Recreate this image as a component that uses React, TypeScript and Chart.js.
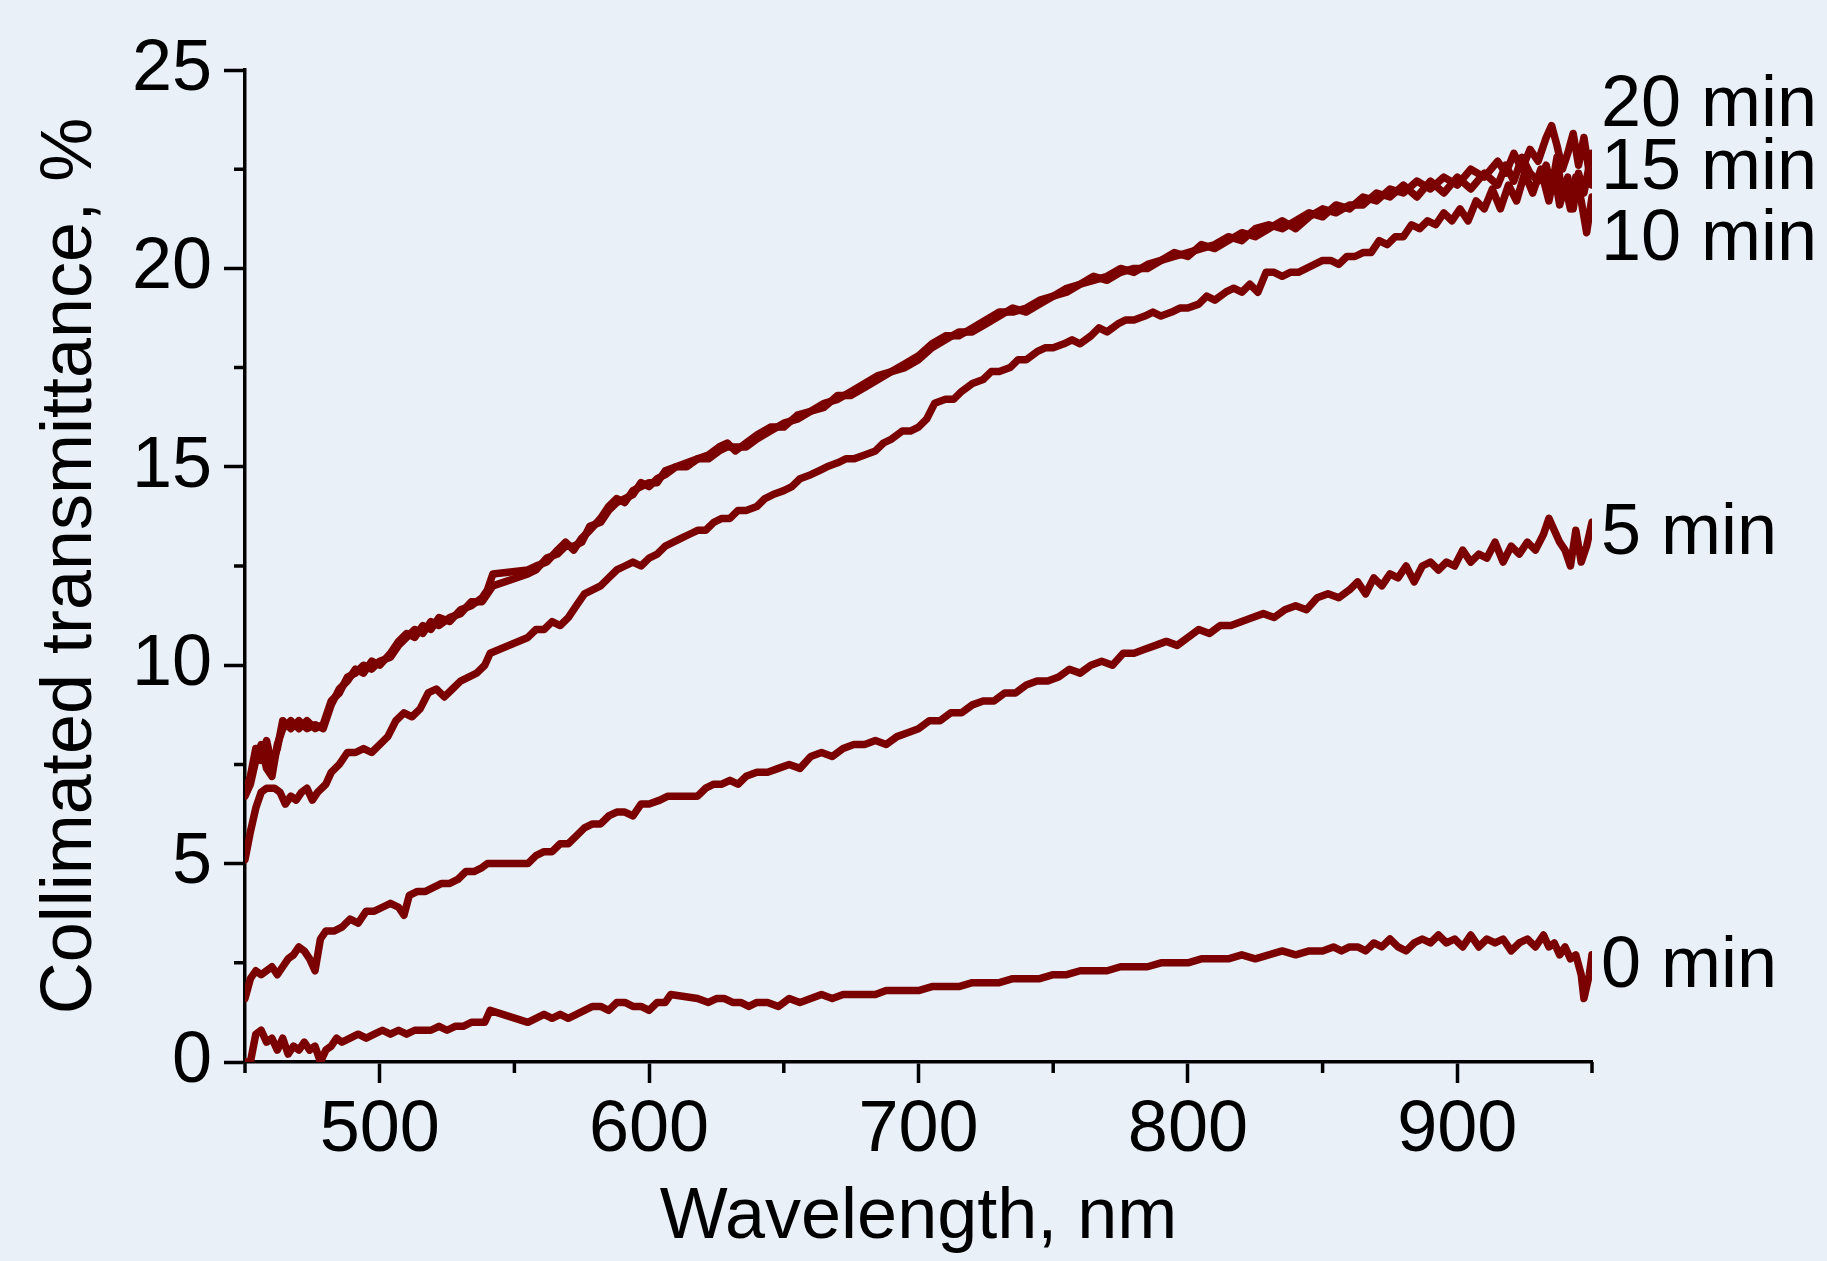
import React, { useEffect, useRef } from "react";
import { Chart, registerables } from "chart.js";

Chart.register(...registerables);

// ---- Data ----
const seriesNames = ["0 min", "5 min", "10 min", "15 min", "20 min"];
const labelYValues = [2.4, 13.3, 20.7, 22.5, 24.1];

const wl0 = [450,452,454,456,458,460,462,464,466,468,470,472,474,476,478,480,482,484,486,489,492,495,498,501,504,507,510,513,516,519,522,525,528,531,534,537,539,541,555,558,561,564,567,570,573,576,579,582,585,588,591,594,597,600,603,606,608,618,622,625,628,631,634,637,640,644,648,652,656,660,664,668,672,676,680,684,688,692,696,700,705,710,715,720,725,730,735,740,745,750,755,760,765,770,775,780,785,790,795,800,805,810,815,820,825,830,835,840,845,850,854,857,860,863,866,869,872,875,878,881,884,887,890,893,896,899,902,905,908,911,914,917,920,923,926,929,932,934,936,938,940,942,944,946,947,949,950];
const t0 = [0.0,0.0,0.7,0.8,0.5,0.6,0.3,0.6,0.2,0.4,0.3,0.5,0.3,0.4,0.0,0.3,0.4,0.6,0.5,0.6,0.7,0.6,0.7,0.8,0.7,0.8,0.7,0.8,0.8,0.8,0.9,0.8,0.9,0.9,1.0,1.0,1.0,1.3,1.0,1.1,1.2,1.1,1.2,1.1,1.2,1.3,1.4,1.4,1.3,1.5,1.5,1.4,1.4,1.3,1.5,1.5,1.7,1.6,1.5,1.6,1.6,1.5,1.5,1.4,1.5,1.5,1.4,1.6,1.5,1.6,1.7,1.6,1.7,1.7,1.7,1.7,1.8,1.8,1.8,1.8,1.9,1.9,1.9,2.0,2.0,2.0,2.1,2.1,2.1,2.2,2.2,2.3,2.3,2.3,2.4,2.4,2.4,2.5,2.5,2.5,2.6,2.6,2.6,2.7,2.6,2.7,2.8,2.7,2.8,2.8,2.9,2.8,2.9,2.9,2.8,3.0,2.9,3.1,2.9,2.8,3.0,3.1,3.0,3.2,3.0,3.1,2.9,3.2,2.9,3.1,3.0,3.1,2.8,3.0,3.1,2.9,3.2,2.9,3.0,2.7,2.9,2.6,2.7,2.2,1.6,2.2,2.7];

const wl5 = [450,452,454,456,458,460,462,464,466,468,470,472,474,476,478,480,483,486,489,492,495,498,501,504,507,509,511,514,517,520,523,526,529,532,535,538,540,555,558,561,564,567,570,573,576,579,582,585,588,591,594,597,600,604,607,618,621,624,627,630,633,636,640,644,648,652,656,660,664,668,672,676,680,684,688,692,696,700,704,708,712,716,720,724,728,732,736,740,744,748,752,756,760,764,768,772,776,780,784,788,792,796,800,804,808,812,816,820,824,828,832,836,840,844,848,852,856,860,863,866,869,872,875,878,881,884,887,890,893,896,899,902,905,908,911,914,917,920,923,926,929,932,934,936,938,940,942,944,946,948,950];
const t5 = [1.6,2.1,2.3,2.2,2.3,2.4,2.2,2.4,2.6,2.7,2.9,2.8,2.6,2.3,3.1,3.3,3.3,3.4,3.6,3.5,3.8,3.8,3.9,4.0,3.9,3.7,4.2,4.3,4.3,4.4,4.5,4.5,4.6,4.8,4.8,4.9,5.0,5.0,5.2,5.3,5.3,5.5,5.5,5.7,5.9,6.0,6.0,6.2,6.3,6.3,6.2,6.5,6.5,6.6,6.7,6.7,6.9,7.0,7.0,7.1,7.0,7.2,7.3,7.3,7.4,7.5,7.4,7.7,7.8,7.7,7.9,8.0,8.0,8.1,8.0,8.2,8.3,8.4,8.6,8.6,8.8,8.8,9.0,9.1,9.1,9.3,9.3,9.5,9.6,9.6,9.7,9.9,9.8,10.0,10.1,10.0,10.3,10.3,10.4,10.5,10.6,10.5,10.7,10.9,10.8,11.0,11.0,11.1,11.2,11.3,11.2,11.4,11.5,11.4,11.7,11.8,11.7,11.9,12.1,11.8,12.2,12.0,12.3,12.2,12.5,12.1,12.5,12.6,12.4,12.6,12.5,12.9,12.6,12.8,12.7,13.1,12.6,13.0,12.8,13.1,12.9,13.3,13.7,13.4,13.1,12.9,12.5,13.4,12.6,13.0,13.6];

const wl10 = [450,452,454,456,458,461,463,465,467,469,471,473,475,477,480,482,485,488,491,494,497,500,503,506,509,512,515,518,521,524,527,530,533,536,539,541,555,558,561,564,567,570,573,576,579,582,585,588,591,594,597,600,603,606,609,612,615,618,621,624,627,630,633,636,640,643,646,650,653,656,660,663,666,670,673,676,680,684,687,690,694,697,700,703,706,710,713,716,720,724,727,730,734,737,740,744,747,750,754,757,760,764,767,770,774,777,780,784,787,790,794,797,800,804,807,810,814,817,820,823,826,829,832,835,838,841,844,847,850,853,856,859,862,865,868,871,874,877,880,883,886,889,892,895,898,901,904,907,910,913,916,919,922,925,928,931,934,936,938,940,942,944,946,948,950];
const t10 = [5.1,5.8,6.4,6.8,6.9,6.9,6.8,6.5,6.7,6.6,6.8,6.9,6.6,6.8,7.0,7.3,7.5,7.8,7.8,7.9,7.8,8.0,8.2,8.6,8.8,8.7,8.9,9.3,9.4,9.2,9.4,9.6,9.7,9.8,10.0,10.3,10.7,10.9,10.9,11.1,11.0,11.2,11.5,11.8,11.9,12.0,12.2,12.4,12.5,12.6,12.5,12.7,12.8,13.0,13.1,13.2,13.3,13.4,13.4,13.6,13.7,13.7,13.9,13.9,14.0,14.2,14.3,14.4,14.5,14.7,14.8,14.9,15.0,15.1,15.2,15.2,15.3,15.4,15.6,15.7,15.9,15.9,16.0,16.2,16.6,16.7,16.7,16.9,17.1,17.2,17.4,17.4,17.5,17.7,17.7,17.9,18.0,18.0,18.1,18.2,18.1,18.3,18.5,18.4,18.6,18.7,18.7,18.8,18.9,18.8,18.9,19.0,19.0,19.1,19.3,19.2,19.4,19.5,19.4,19.6,19.4,19.9,19.9,19.8,19.9,19.9,20.0,20.1,20.2,20.2,20.1,20.3,20.3,20.4,20.4,20.7,20.6,20.8,20.8,21.1,21.0,21.2,21.1,21.4,21.2,21.5,21.2,21.7,21.5,22.0,21.5,22.1,21.7,22.4,21.9,22.5,21.7,22.4,21.6,22.1,21.5,22.3,21.7,20.9,21.8];

const wl15 = [450,452,454,456,458,460,462,464,467,470,473,476,479,482,485,488,491,494,497,500,504,507,510,513,516,519,522,526,530,534,538,540,542,555,558,562,566,569,572,575,578,582,585,588,591,594,597,600,603,606,610,614,618,622,626,629,632,636,640,645,650,655,660,665,670,675,680,685,690,695,700,705,710,715,720,725,730,735,740,745,750,755,760,765,770,775,780,785,790,795,800,805,810,815,820,825,830,835,840,845,850,855,860,865,870,875,880,885,890,895,900,905,910,915,918,921,924,927,930,933,935,937,939,941,943,945,947,949,950];
const t15 = [6.7,7.0,7.6,8.0,7.4,7.2,8.0,8.4,8.6,8.4,8.6,8.4,8.5,9.1,9.3,9.7,9.8,10.0,9.9,10.1,10.2,10.5,10.7,10.9,10.8,11.1,11.0,11.2,11.3,11.6,11.6,11.8,12.0,12.3,12.4,12.7,12.8,13.0,13.0,13.1,13.5,13.6,13.9,14.1,14.2,14.3,14.6,14.5,14.7,14.8,15.0,15.0,15.2,15.2,15.4,15.5,15.5,15.5,15.7,15.9,16.1,16.2,16.4,16.5,16.8,16.8,17.0,17.2,17.4,17.5,17.7,18.0,18.2,18.4,18.4,18.6,18.8,19.0,18.9,19.1,19.3,19.4,19.6,19.8,19.7,19.9,20.0,20.0,20.2,20.4,20.3,20.6,20.5,20.7,20.9,20.8,21.0,21.2,21.0,21.3,21.5,21.4,21.6,21.6,21.9,21.8,22.1,21.8,22.2,21.9,22.3,22.0,22.4,22.1,22.6,22.2,22.8,22.4,22.2,22.6,22.0,22.8,21.8,22.3,21.5,22.4,21.9,22.6,22.1];

const wl20 = [450,452,454,456,458,460,462,464,467,470,473,476,479,482,485,488,491,494,497,500,504,507,510,513,516,519,522,526,530,534,538,540,542,555,558,562,566,569,572,575,578,582,585,588,591,594,597,600,603,606,610,614,618,622,626,629,632,636,640,645,650,655,660,665,670,675,680,685,690,695,700,705,710,715,720,725,730,735,740,745,750,755,760,765,770,775,780,785,790,795,800,805,810,815,820,825,830,835,840,845,850,855,860,865,870,875,880,885,890,895,900,905,910,915,918,921,924,927,930,933,935,937,939,941,943,945,947,949,950];
const t20 = [6.8,7.2,7.9,7.6,8.1,7.5,7.9,8.6,8.4,8.6,8.4,8.5,8.4,9.0,9.4,9.6,9.9,9.8,10.1,10.0,10.3,10.6,10.8,10.7,11.0,10.9,11.2,11.1,11.4,11.5,11.7,11.9,12.3,12.4,12.5,12.6,12.9,13.1,12.9,13.2,13.4,13.7,14.0,14.2,14.1,14.4,14.5,14.6,14.6,14.9,15.0,15.1,15.2,15.3,15.5,15.6,15.4,15.6,15.8,16.0,16.0,16.3,16.4,16.6,16.7,16.9,17.1,17.3,17.4,17.6,17.8,18.1,18.3,18.3,18.5,18.7,18.9,18.9,19.0,19.2,19.3,19.5,19.6,19.7,19.8,20.0,19.9,20.1,20.2,20.3,20.4,20.5,20.6,20.8,20.7,21.0,21.1,21.0,21.2,21.4,21.3,21.6,21.5,21.8,21.7,22.0,21.9,22.2,22.0,22.3,22.1,22.5,22.3,22.7,22.4,22.9,22.5,23.0,22.7,23.3,23.6,23.1,22.5,22.9,23.4,22.6,23.3,22.4,22.9];

const xTickLabels = [500, 600, 700, 800, 900];
const yTickLabels = [0, 5, 10, 15, 20, 25];

const allWl = [wl0, wl5, wl10, wl15, wl20];
const allT = [t0, t5, t10, t15, t20];

const FONT_FAMILY = "'Liberation Sans', Arial, Helvetica, sans-serif";
const LINE_COLOR = "#7b0000";
const AXIS_W = 3.5;

const minorTicksPlugin = {
  id: "minorTicks",
  afterDraw(chart: any) {
    const ctx = chart.ctx;
    const xs = chart.scales.x;
    const ys = chart.scales.y;
    ctx.save();
    ctx.strokeStyle = "#000";
    ctx.lineWidth = AXIS_W;
    ctx.beginPath();
    xs.ticks.forEach((t: any) => {
      if (!xTickLabels.includes(t.value)) {
        const px = xs.getPixelForValue(t.value);
        ctx.moveTo(px, xs.top);
        ctx.lineTo(px, xs.top + 11);
      }
    });
    ys.ticks.forEach((t: any) => {
      if (!yTickLabels.includes(t.value)) {
        const py = ys.getPixelForValue(t.value);
        ctx.moveTo(ys.right, py);
        ctx.lineTo(ys.right - 11, py);
      }
    });
    ctx.stroke();
    ctx.restore();
  },
};

const seriesLabelPlugin = {
  id: "seriesLabels",
  afterDraw(chart: any) {
    const ctx = chart.ctx;
    const ys = chart.scales.y;
    ctx.save();
    ctx.fillStyle = "#000";
    ctx.font = `72px ${FONT_FAMILY}`;
    ctx.textAlign = "left";
    ctx.textBaseline = "middle";
    seriesNames.forEach((name, i) => {
      ctx.fillText(name, chart.chartArea.right + 9, ys.getPixelForValue(labelYValues[i]));
    });
    ctx.restore();
  },
};

export default function App() {
  const canvasRef = useRef<HTMLCanvasElement | null>(null);

  useEffect(() => {
    const canvas = canvasRef.current;
    if (!canvas) return;
    const font = { family: FONT_FAMILY, size: 72 };
    const chart = new Chart(canvas, {
      type: "line",
      data: {
        datasets: allWl.map((wl, si) => ({
          label: seriesNames[si],
          data: wl.map((x, i) => ({ x, y: allT[si][i] })),
          borderColor: LINE_COLOR,
          backgroundColor: LINE_COLOR,
          borderWidth: 7.5,
          pointRadius: 0,
          tension: 0,
          fill: false,
          borderJoinStyle: "round",
          borderCapStyle: "round",
        })),
      },
      options: {
        responsive: false,
        animation: false,
        devicePixelRatio: 1,
        events: [],
        layout: { padding: { top: 70, right: 235, left: 0, bottom: 0 } },
        plugins: {
          legend: { display: false },
          tooltip: { enabled: false },
        },
        scales: {
          x: {
            type: "linear",
            min: 450,
            max: 950,
            afterFit: (s: any) => {
              s.height = 199;
            },
            ticks: {
              stepSize: 50,
              autoSkip: false,
              maxRotation: 0,
              minRotation: 0,
              padding: 5,
              color: "#000",
              font,
              callback: (v: any) => (xTickLabels.includes(Number(v)) ? String(v) : ""),
            },
            grid: {
              display: true,
              drawOnChartArea: false,
              drawTicks: true,
              tickLength: 21,
              tickWidth: AXIS_W,
              tickColor: (c: any) =>
                c.tick && xTickLabels.includes(c.tick.value) ? "#000" : "rgba(0,0,0,0)",
            },
            border: { display: true, color: "#000", width: AXIS_W },
            title: {
              display: true,
              text: "Wavelength, nm",
              color: "#000",
              font,
              padding: { top: 0, bottom: 0 },
            },
          },
          y: {
            type: "linear",
            min: 0,
            max: 25,
            afterFit: (s: any) => {
              s.width = 245;
            },
            ticks: {
              stepSize: 2.5,
              autoSkip: false,
              padding: 12,
              color: "#000",
              font,
              callback: (v: any) => (yTickLabels.includes(Number(v)) ? String(v) : ""),
            },
            grid: {
              display: true,
              drawOnChartArea: false,
              drawTicks: true,
              tickLength: 21,
              tickWidth: AXIS_W,
              tickColor: (c: any) =>
                c.tick && yTickLabels.includes(c.tick.value) ? "#000" : "rgba(0,0,0,0)",
            },
            border: { display: true, color: "#000", width: AXIS_W },
            title: {
              display: true,
              text: "Collimated transmittance, %",
              color: "#000",
              font,
              padding: { top: 28, bottom: 0 },
            },
          },
        },
      } as any,
      plugins: [minorTicksPlugin, seriesLabelPlugin],
    });
    return () => chart.destroy();
  }, []);

  return (
    <div
      style={{
        position: "absolute",
        left: 0,
        top: 0,
        width: 1827,
        height: 1261,
        background: "#e9f0f8",
        overflow: "hidden",
      }}
    >
      <canvas ref={canvasRef} width={1827} height={1261} style={{ display: "block", width: 1827, height: 1261 }} />
    </div>
  );
}
